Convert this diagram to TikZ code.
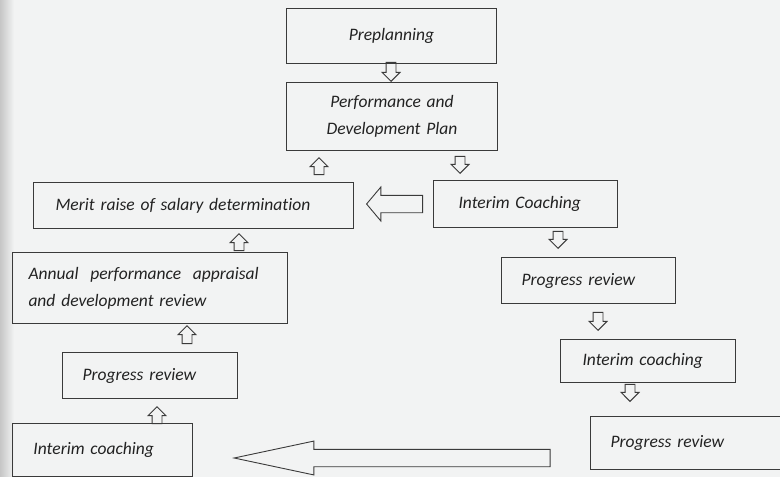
\documentclass[tikz,border=0pt]{standalone}
\usepackage{fontspec}
\setmainfont[Ligatures=NoCommon]{Carlito}
\usetikzlibrary{shapes.arrows}
\definecolor{bg}{HTML}{F2F3F3}
\definecolor{ln}{HTML}{3A3A3A}
\definecolor{tx}{HTML}{222222}
\newcommand\fs{\fontsize{17.5}{27}\selectfont\itshape}
\tikzset{
  box/.style={draw=ln, line width=1pt, anchor=north west, inner ysep=0pt,
    align=left, text=tx, font=\fs},
  sarrow/.style={single arrow, draw=ln, line width=0.9pt, inner xsep=0pt,
    inner ysep=4.5pt, minimum height=17pt, single arrow head extend=4pt,
    single arrow tip angle=90, anchor=tip},
  barrow/.style={single arrow, draw=ln, line width=0.9pt, inner xsep=0pt,
    inner ysep=8.25pt, single arrow head extend=8.25pt, anchor=tip}
}
\begin{document}
\begin{tikzpicture}[x={(1pt,0pt)}, y={(0pt,-1pt)}]
\useasboundingbox (0,0) rectangle (780,477);
\fill[bg] (0,0) rectangle (780,477);
\shade[left color=gray!45, right color=bg] (0,0) rectangle (14,477);

% boxes
\node[box, align=center, inner xsep=10pt, text width=190pt, minimum height=55pt] (pre) at (286,8) {Preplanning};
\node[box, align=center, inner xsep=10pt, text width=191pt, minimum height=68pt] (pdp) at (286,82) {Performance and\\Development Plan};
\node[box, inner xsep=22pt, text width=276pt, minimum height=46pt] (merit) at (33,182) {Merit raise of salary determination};
\node[box, inner xsep=25pt, text width=134pt, minimum height=47pt] (ic1) at (433,180) {Interim Coaching};
\node[box, inner xsep=16pt, text width=243pt, minimum height=71pt] (annual) at (12,252) {Annual\ \ performance\ \ appraisal\\and development review};
\node[box, inner xsep=20pt, text width=134pt, minimum height=46pt] (pr1) at (501,257) {Progress review};
\node[box, inner xsep=22pt, text width=131pt, minimum height=43pt] (ic2) at (560,339) {Interim coaching};
\node[box, inner xsep=20pt, text width=170pt, minimum height=53pt] (pr2) at (590,416) {Progress review};
\node[box, inner xsep=20pt, text width=135pt, minimum height=46pt] (prl) at (62,352) {Progress review};
\node[box, inner xsep=21pt, text width=138pt, minimum height=53pt] (icl) at (12,423) {Interim coaching};

% small block arrows (placed by their tips)
\node[sarrow, rotate=-90, minimum height=19pt] (a1) at (391,82) {};
\node[sarrow, rotate=90] (a2) at (319,157) {};
\node[sarrow, rotate=-90] (a3) at (460,174) {};
\node[sarrow, rotate=90] (a4) at (239,233) {};
\node[sarrow, rotate=-90] (a5) at (558,249) {};
\node[sarrow, rotate=-90, minimum height=18pt] (a6) at (598,331) {};
\node[sarrow, rotate=-90] (a7) at (630,402) {};
\node[sarrow, rotate=90, minimum height=18pt] (a8) at (187,325) {};
\node[sarrow, rotate=90] (a9) at (157,406) {};

% big block arrows
\node[barrow, rotate=180, minimum height=56pt, single arrow tip angle=100] (b1) at (366,204) {};
\node[barrow, rotate=180, minimum height=316pt, single arrow tip angle=24] (b2) at (232,458) {};
\end{tikzpicture}
\end{document}
